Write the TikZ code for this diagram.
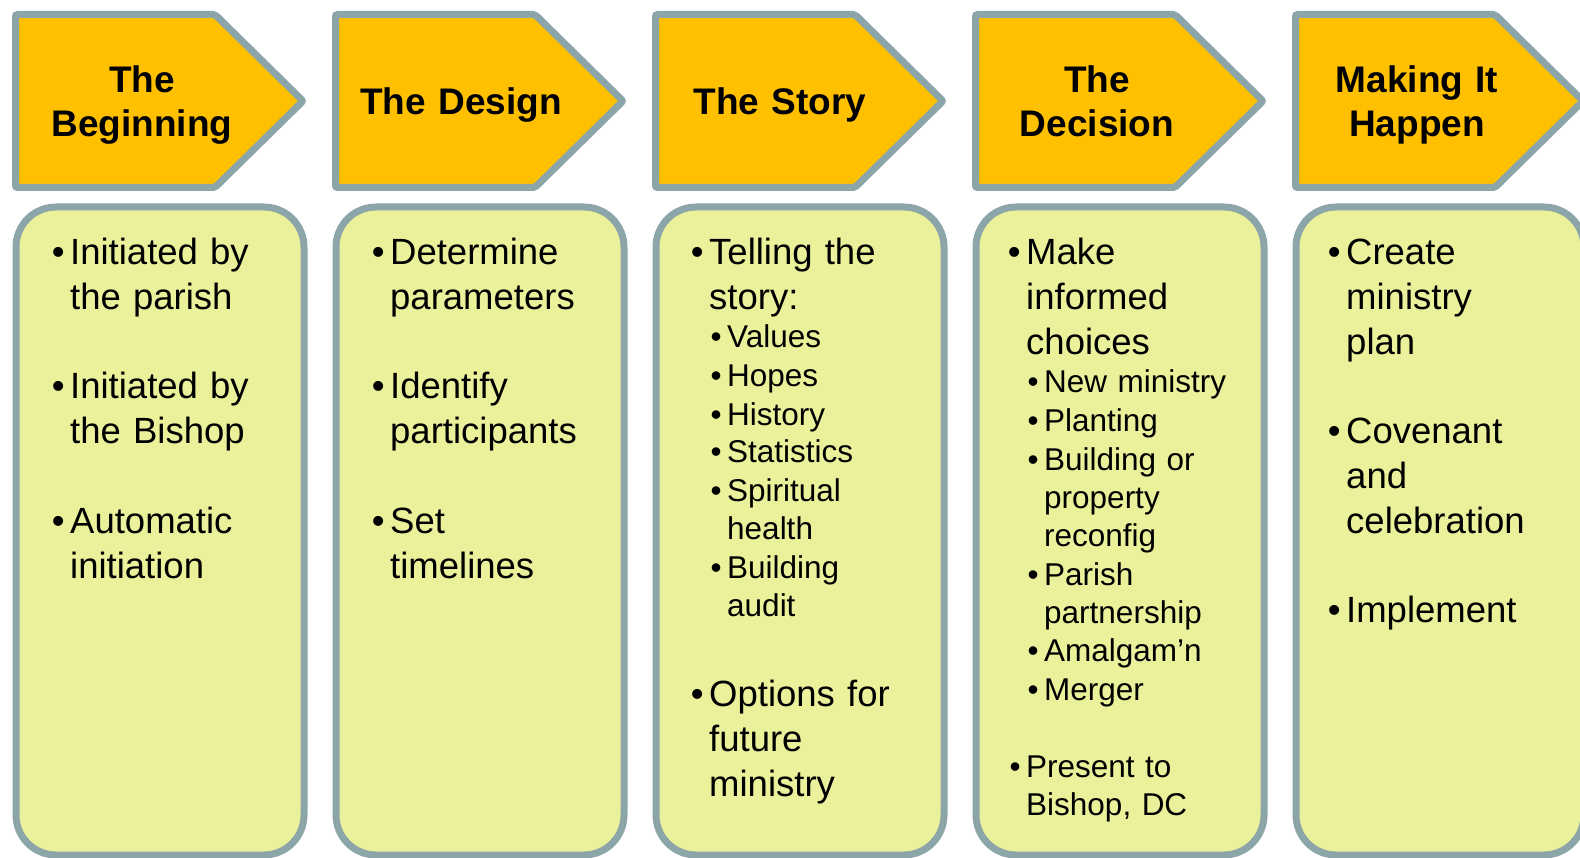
\documentclass[tikz,border=0pt]{standalone}
\usepackage{fontspec}
\setmainfont{Liberation Sans}
\definecolor{arrowfill}{HTML}{FFC000}
\definecolor{edgegray}{HTML}{8CA5A9}
\definecolor{boxfill}{HTML}{EBF19A}
\newcommand{\itembul}{\llap{\textbullet\hspace{5.5pt}}}

\begin{document}
\begin{tikzpicture}[x=1pt,y=-1pt,
    stage/.style={fill=arrowfill,draw=edgegray,line width=7pt,rounded corners=2pt},
    panel/.style={fill=boxfill,draw=edgegray,line width=7pt,rounded corners=40pt},
    head/.style={anchor=base,inner sep=0pt,text width=260pt,align=center,font=\bfseries\fontsize{37}{44}\selectfont},
    point/.style={anchor=base west,inner sep=0pt,text width=245pt,align=left,font=\fontsize{36.5}{45}\selectfont},
    subpoint/.style={anchor=base west,inner sep=0pt,text width=220pt,align=left,font=\fontsize{31.5}{38.4}\selectfont}]
\useasboundingbox (0,0) rectangle (1580,858);
\clip (0,0) rectangle (1580,858);

% stage arrows
\draw[stage] (15.5,14.5) -- (215,14.5) -- (303,101) -- (215,187.5) -- (15.5,187.5) -- cycle;
\draw[stage] (335.5,14.5) -- (535,14.5) -- (623,101) -- (535,187.5) -- (335.5,187.5) -- cycle;
\draw[stage] (655.5,14.5) -- (855,14.5) -- (943,101) -- (855,187.5) -- (655.5,187.5) -- cycle;
\draw[stage] (975.5,14.5) -- (1175,14.5) -- (1263,101) -- (1175,187.5) -- (975.5,187.5) -- cycle;
\draw[stage] (1295.5,14.5) -- (1495,14.5) -- (1583,101) -- (1495,187.5) -- (1295.5,187.5) -- cycle;

% panels
\draw[panel] (16,207) rectangle (304,855);
\draw[panel] (336,207) rectangle (624,855);
\draw[panel] (656,207) rectangle (944,855);
\draw[panel] (976,207) rectangle (1264,855);
\draw[panel] (1296,207) rectangle (1584,855);

% headings
\node[head] (begin) at (142,93) {The\\Beginning};
\node[head] (design) at (461,115) {The Design};
\node[head] (story) at (780,115) {The Story};
\node[head] (decision) at (1097,93) {The\\Decision};
\node[head] (happen) at (1417,93) {Making It\\Happen};

% the beginning
\node[point] (beg1) at (70,265) {\itembul Initiated by\\the parish};
\node[point] (beg2) at (70,399) {\itembul Initiated by\\the Bishop};
\node[point] (beg3) at (70,533) {\itembul Automatic\\initiation};

% the design
\node[point] (des1) at (390,265) {\itembul Determine\\parameters};
\node[point] (des2) at (390,399) {\itembul Identify\\participants};
\node[point] (des3) at (390,533) {\itembul Set\\timelines};

% the story
\node[point] (sto1) at (709,265) {\itembul Telling the\\story:};
\node[subpoint] (sto1a) at (727,348) {\itembul Values};
\node[subpoint] (sto1b) at (727,386.5) {\itembul Hopes};
\node[subpoint] (sto1c) at (727,425) {\itembul History};
\node[subpoint] (sto1d) at (727,463) {\itembul Statistics};
\node[subpoint] (sto1e) at (727,501.5) {\itembul Spiritual\\health};
\node[subpoint] (sto1f) at (727,578) {\itembul Building\\audit};
\node[point] (sto2) at (709,706) {\itembul Options for\\future\\ministry};

% the decision
\node[point] (dec1) at (1026,265) {\itembul Make\\informed\\choices};
\node[subpoint] (dec1a) at (1044,393) {\itembul New ministry};
\node[subpoint] (dec1b) at (1044,431.5) {\itembul Planting};
\node[subpoint] (dec1c) at (1044,470) {\itembul Building or\\property\\reconfig};
\node[subpoint] (dec1d) at (1044,585) {\itembul Parish\\partnership};
\node[subpoint] (dec1e) at (1044,661.5) {\itembul Amalgam’n};
\node[subpoint] (dec1f) at (1044,700) {\itembul Merger};
\node[subpoint] (dec2) at (1026,777) {\itembul Present to\\Bishop, DC};

% making it happen
\node[point] (hap1) at (1346,265) {\itembul Create\\ministry\\plan};
\node[point] (hap2) at (1346,443) {\itembul Covenant\\and\\celebration};
\node[point] (hap3) at (1346,622) {\itembul Implement};
\end{tikzpicture}
\end{document}
